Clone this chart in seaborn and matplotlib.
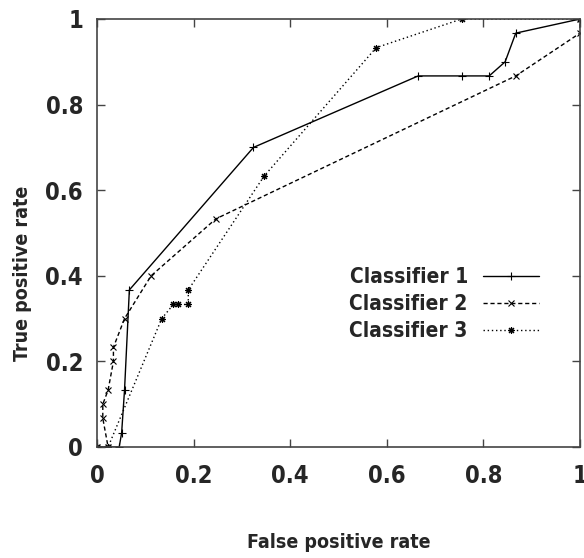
import matplotlib
matplotlib.use("Agg")
import matplotlib.pyplot as plt
import numpy as np
import pandas as pd
import seaborn as sns

# ROC points
clf1_fpr = [0.0, 0.046, 0.051, 0.057, 0.067, 0.324, 0.665, 0.756, 0.812, 0.845, 0.867, 1.0]
clf1_tpr = [0.0, 0.0, 0.033, 0.133, 0.367, 0.700, 0.867, 0.867, 0.867, 0.900, 0.967, 1.0]

clf2_fpr = [0.0, 0.023, 0.012, 0.012, 0.023, 0.034, 0.034, 0.057, 0.112, 0.246, 0.867, 1.0, 1.0]
clf2_tpr = [0.0, 0.0, 0.067, 0.100, 0.133, 0.200, 0.233, 0.300, 0.400, 0.533, 0.867, 0.967, 1.0]

clf3_fpr = [0.0, 0.023, 0.134, 0.158, 0.167, 0.189, 0.189, 0.346, 0.578, 0.755, 1.0]
clf3_tpr = [0.0, 0.0, 0.300, 0.333, 0.333, 0.333, 0.367, 0.633, 0.933, 1.0, 1.0]

labels = ["Classifier 1", "Classifier 2", "Classifier 3"]
ticks = [0, 0.2, 0.4, 0.6, 0.8, 1]
tick_labels = ["0", "0.2", "0.4", "0.6", "0.8", "1"]

sns.set_style("ticks")
plt.rcParams['font.family'] = ['DejaVu Sans']
plt.rcParams['font.stretch'] = 'condensed'
plt.rcParams['font.weight'] = 'bold'

fig = plt.figure(figsize=(5.84, 5.58), dpi=100)
ax = fig.add_axes([97 / 584, 111 / 558, 483 / 584, 428 / 558])

series = [
    (clf1_fpr, clf1_tpr, '-', '+', 6),
    (clf2_fpr, clf2_tpr, (0, (3, 2)), 'x', 5),
    (clf3_fpr, clf3_tpr, (0, (1, 2)), (8, 2, 0), 5),
]
for (fpr, tpr, ls, mk, ms), name in zip(series, labels):
    df = pd.DataFrame({"fpr": fpr, "tpr": tpr})
    sns.lineplot(data=df, x="fpr", y="tpr", sort=False, estimator=None,
                 color="black", linewidth=1.0, linestyle=ls,
                 marker=mk, markersize=ms, markeredgewidth=0.8,
                 markeredgecolor="black", label=name, ax=ax)

ax.set_xlim(0, 1)
ax.set_ylim(0, 1)
ax.set_xticks(ticks)
ax.set_xticklabels(tick_labels)
ax.set_yticks(ticks)
ax.set_yticklabels(tick_labels)
ax.tick_params(direction='in', length=6, width=1, top=True, right=True,
               labelsize=17, color='#444444')
ax.tick_params(axis='x', pad=12)
ax.tick_params(axis='y', pad=10)
for lab in ax.get_xticklabels() + ax.get_yticklabels():
    lab.set_fontweight('bold')
for sp in ax.spines.values():
    sp.set_visible(True)
    sp.set_color('#444444')
    sp.set_linewidth(1.2)

ax.set_xlabel("")
ax.set_ylabel("")
fig.text(339 / 584, 1 - 543 / 558, "False positive rate", ha='center', va='center',
         fontsize=14, fontweight='bold')
fig.text(23 / 584, 1 - 273 / 558, "True positive rate", ha='center', va='center',
         rotation=90, fontsize=14, fontweight='bold')

leg = ax.legend(loc='center right', bbox_to_anchor=((539 - 97) / 483, (447 - 304) / 428),
                frameon=False, markerfirst=False, handlelength=2.7,
                fontsize=15, labelspacing=0.33, borderpad=0, borderaxespad=0,
                handletextpad=0.72, alignment='right')
for t in leg.get_texts():
    t.set_fontweight('bold')

fig.savefig("out.png", dpi=100)
